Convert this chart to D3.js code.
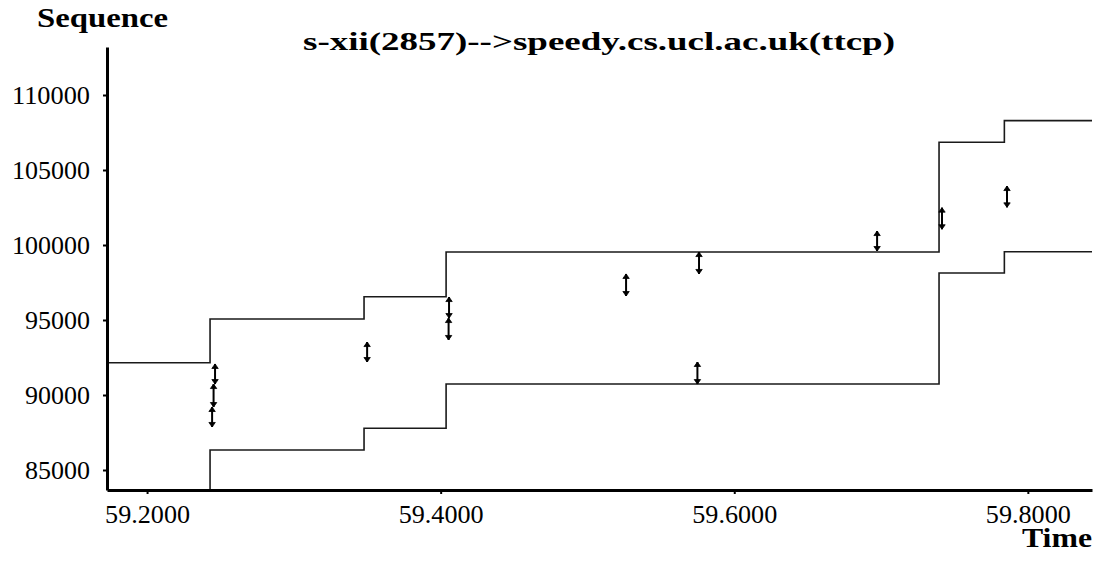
<!DOCTYPE html>
<html>
<head>
<meta charset="utf-8">
<script src="https://cdn.jsdelivr.net/npm/d3@7"></script>
<style>
  html, body { margin: 0; padding: 0; background: #fff; }
  svg { display: block; }
</style>
</head>
<body>
<svg id="chart" width="1094" height="561"></svg>
<script>
// ---- data ----
const title = "s-xii(2857)-->speedy.cs.ucl.ac.uk(ttcp)";
const yLabel = "Sequence";
const xLabel = "Time";
const xTicks = [59.2, 59.4, 59.6, 59.8];
const yTicks = [85000, 90000, 95000, 100000, 105000, 110000];
const xDomain = [59.1727, 59.8437];
const yDomain = [83667, 113200];

// upper step line (receive window edge): [time, sequence]
const upperTimes = [59.1727, 59.2429, 59.3478, 59.4037, 59.7395, 59.7840, 59.8437];
const upperSeqs  = [92150,   95070,   96550,   99530,   106850,  108290,  108290];
// lower step line (ack): [time, sequence]
const lowerTimes = [59.2429, 59.2429, 59.3478, 59.4037, 59.7395, 59.7840, 59.8437];
const lowerSeqs  = [83667,   86330,   87780,   90730,   98130,   99550,   99550];

// data segments: time, start seq, end seq
const segTimes  = [59.2443, 59.2453, 59.2463, 59.3499, 59.4054, 59.4057, 59.5263, 59.5749, 59.5760, 59.6973, 59.7415, 59.7858];
const segStarts = [87870,   89200,   90730,   92200,   93670,   95130,   96600,   90730,   98070,   99600,   101050,  102510];
const segEnds   = [89200,   90730,   92070,   93530,   95130,   96530,   98070,   92200,   99530,   100930,  102490,  103930];

// ---- drawing ----
const FONT = "'Liberation Serif', 'Times New Roman', serif";
const svg = d3.select("#chart");
const x = d3.scaleLinear().domain(xDomain).range([107, 1092]);
const y = d3.scaleLinear().domain(yDomain).range([490, 47]);

function stepPath(ts, vs) {
  const pts = ts.map((t, i) => [x(t), y(vs[i])]);
  return d3.line().curve(d3.curveStepAfter)(pts);
}

svg.append("path").attr("d", stepPath(upperTimes, upperSeqs))
  .attr("fill", "none").attr("stroke", "#1a1a1a").attr("stroke-width", 1.6);
svg.append("path").attr("d", stepPath(lowerTimes, lowerSeqs))
  .attr("fill", "none").attr("stroke", "#1a1a1a").attr("stroke-width", 1.6);

// segments with arrowheads
const segs = segTimes.map((t, i) => ({t, s: segStarts[i], e: segEnds[i]}));
const gSeg = svg.append("g");
segs.forEach(d => {
  const cx = x(d.t), y0 = y(d.s), y1 = y(d.e);
  gSeg.append("line").attr("x1", cx).attr("x2", cx).attr("y1", y0).attr("y2", y1)
    .attr("stroke", "#000").attr("stroke-width", 2);
  gSeg.append("path").attr("d", `M${cx - 3.2},${y1 + 4.5} L${cx},${y1} L${cx + 3.2},${y1 + 4.5} Z`)
    .attr("fill", "#000").attr("stroke", "#000").attr("stroke-width", 0.8);
  gSeg.append("path").attr("d", `M${cx - 3.2},${y0 - 4.5} L${cx},${y0} L${cx + 3.2},${y0 - 4.5} Z`)
    .attr("fill", "#000").attr("stroke", "#000").attr("stroke-width", 0.8);
});

// axes
const yAxis = d3.axisLeft(y).tickValues(yTicks).tickFormat(d3.format("d")).tickSizeInner(4).tickSizeOuter(0).tickPadding(13);
const xAxis = d3.axisBottom(x).tickValues(xTicks).tickFormat(d3.format(".4f")).tickSizeInner(4).tickSizeOuter(0).tickPadding(11);

const gy = svg.append("g").attr("transform", "translate(107,0)").call(yAxis);
const gx = svg.append("g").attr("transform", "translate(0,490)").call(xAxis);
[gy, gx].forEach(g => {
  g.attr("font-family", null).attr("font-size", null);
  g.select(".domain").attr("stroke", "#000").attr("stroke-width", 3);
  g.selectAll(".tick line").attr("stroke", "#000").attr("stroke-width", 2);
  g.selectAll(".tick text").style("font-family", FONT).style("font-size", "25px").attr("fill", "#000");
});
gy.selectAll(".tick text").attr("dy", "0.34em").attr("textLength", 78).attr("lengthAdjust", "spacingAndGlyphs");
gy.selectAll(".tick text").filter(d => d < 100000).attr("textLength", 65);
gx.selectAll(".tick text").attr("textLength", 85).attr("lengthAdjust", "spacingAndGlyphs");

// labels
svg.append("text").attr("x", 37).attr("y", 27).text(yLabel)
  .style("font-family", FONT).style("font-weight", "bold").style("font-size", "27px")
  .attr("textLength", 131).attr("lengthAdjust", "spacingAndGlyphs");
svg.append("text").attr("x", 303).attr("y", 50).text(title)
  .style("font-family", FONT).style("font-weight", "bold").style("font-size", "26px")
  .attr("textLength", 592).attr("lengthAdjust", "spacingAndGlyphs");
svg.append("text").attr("x", 1022).attr("y", 547).text(xLabel)
  .style("font-family", FONT).style("font-weight", "bold").style("font-size", "28px")
  .attr("textLength", 70).attr("lengthAdjust", "spacingAndGlyphs");
</script>
</body>
</html>
